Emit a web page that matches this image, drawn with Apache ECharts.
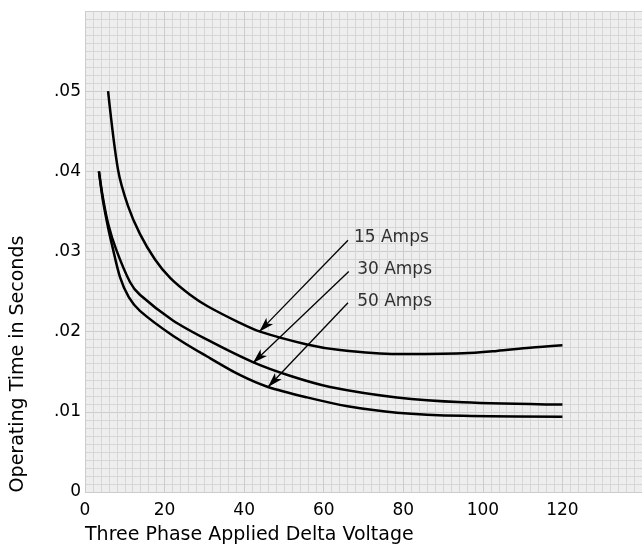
<!DOCTYPE html>
<html>
<head>
<meta charset="utf-8">
<script src="https://cdn.jsdelivr.net/npm/echarts@6/dist/echarts.min.js"></script>
<style>html,body{margin:0;padding:0;background:#fff}#c{width:642px;height:546px}</style>
</head>
<body>
<div id="c"></div>
<script>
// Operating time (s) vs three phase applied delta voltage
var amps15 = [[5.8,0.0500],[8.3,0.0402],[10.8,0.0357],[13.8,0.0322],[17.6,0.0290],[21.4,0.0267],[26.4,0.0246],[30.7,0.0232],[38.9,0.0211],[44.0,0.0200],[55.8,0.0184],[64.1,0.0177],[78.4,0.0172],[95,0.0173],[103.5,0.0176],[111.8,0.0180],[120,0.0183]];
var amps30 = [[3.5,0.0400],[4.5,0.0367],[5.8,0.0335],[7.8,0.0303],[11.3,0.0262],[13.8,0.0246],[22.1,0.0214],[30.7,0.0190],[42.2,0.0162],[51.5,0.0145],[61.6,0.0131],[78.4,0.0118],[95,0.0112],[120,0.0109]];
var amps50 = [[3.5,0.0400],[4.5,0.0364],[5.8,0.0330],[6.8,0.0308],[8.8,0.0268],[11.0,0.0243],[13.8,0.0226],[22.1,0.0195],[30.7,0.0169],[38.9,0.0146],[46.0,0.0131],[55.8,0.0118],[66.0,0.0107],[78.4,0.0099],[95,0.0095],[120,0.0094]];
var labelNames = ['15 Amps','30 Amps','50 Amps'];
var labelPoints = [[67.6,0.0317],[68.4,0.0278],[68.4,0.0238]];
var leaderStarts = [[66.1,0.0314],[66.3,0.0275],[66.1,0.0236]];
var leaderEnds = [[43.8,0.0200],[42.2,0.0161],[46.0,0.0131]];
var xTicks = [0,20,40,60,80,100,120];
var yTickLabels = {'0':'0','0.01':'.01','0.02':'.02','0.03':'.03','0.04':'.04','0.05':'.05'};
var xTitle = 'Three Phase Applied Delta Voltage';
var yTitle = 'Operating Time in Seconds';

var font = 'DejaVu Sans';
var chart = echarts.init(document.getElementById('c'));
var curveStyle = {color:'#000', width:2.5};
function curve(name, data){
  return {name:name, type:'line', data:data, smooth:0.3, showSymbol:false, symbol:'none',
          lineStyle:curveStyle, itemStyle:{color:'#000'}, silent:true, z:3};
}
var leaders = leaderStarts.map(function(s,i){
  return [{coord:s, symbol:'none'},{coord:leaderEnds[i], symbol:'arrow', symbolSize:[7,15]}];
});
chart.setOption({
  animation:false,
  backgroundColor:'#ffffff',
  grid:{left:85, right:0, top:11, bottom:54, show:true, backgroundColor:'#eeeeee', borderWidth:0},
  xAxis:{type:'value', min:0, max:140, interval:20,
    axisLine:{show:false}, axisTick:{show:false},
    axisLabel:{margin:10, fontFamily:font, fontSize:17, color:'#000', showMaxLabel:false,
      formatter:function(v){return xTicks.indexOf(v)>=0 ? String(v) : '';}},
    splitLine:{show:true, lineStyle:{color:'#cccccc', width:1}},
    minorTick:{show:false, splitNumber:10},
    minorSplitLine:{show:true, lineStyle:{color:'#d6d6d6', width:1}}
  },
  yAxis:{type:'value', min:0, max:0.06, interval:0.01,
    axisLine:{show:false}, axisTick:{show:false},
    axisLabel:{margin:4, fontFamily:font, fontSize:17, color:'#000', showMaxLabel:false,
      formatter:function(v){var k=String(Math.round(v*100)/100); return yTickLabels[k]||'';}},
    splitLine:{show:true, lineStyle:{color:'#cccccc', width:1}},
    minorTick:{show:false, splitNumber:10},
    minorSplitLine:{show:true, lineStyle:{color:'#d6d6d6', width:1}}
  },
  graphic:[
    {type:'text', left:85, top:526, style:{text:xTitle, fontFamily:font, fontSize:19, fill:'#000'}},
    {type:'text', x:18, y:364, rotation:Math.PI/2,
      style:{text:yTitle, fontFamily:font, fontSize:19, fill:'#000', align:'center', verticalAlign:'middle'}}
  ],
  series:[
    curve('15 Amps', amps15),
    curve('30 Amps', amps30),
    curve('50 Amps', amps50),
    {type:'scatter', symbolSize:0, silent:true, z:4,
      data:labelPoints.map(function(p,i){return {value:p, name:labelNames[i]};}),
      label:{show:true, position:'right', distance:0, formatter:'{b}', fontFamily:font, fontSize:17, color:'#000'},
      markLine:{silent:true, animation:false, label:{show:false},
        lineStyle:{color:'#000', width:1.3, type:'solid'}, data:leaders}
    }
  ]
});
</script>
</body>
</html>
